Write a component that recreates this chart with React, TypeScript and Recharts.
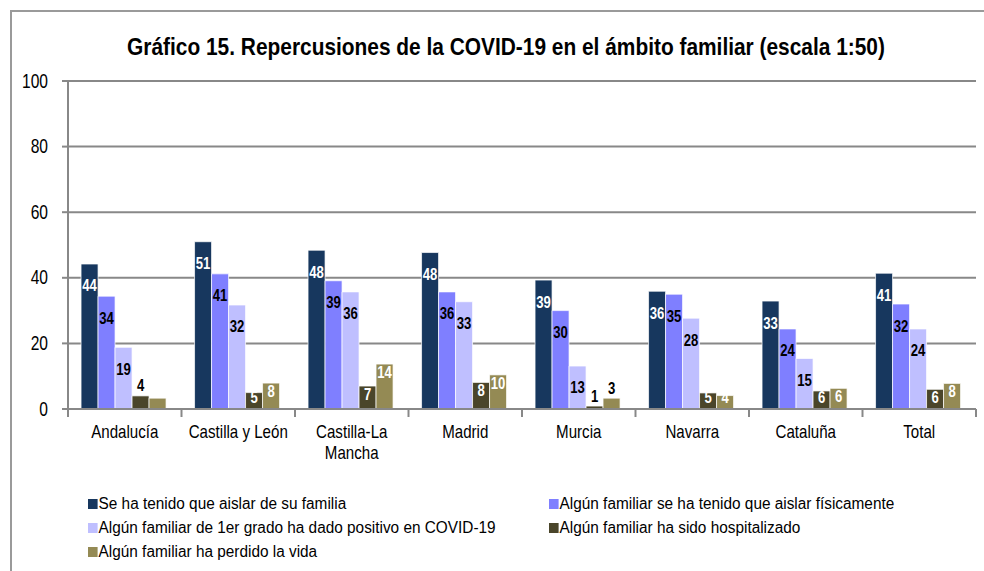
import { Bar, BarChart, CartesianGrid, LabelList, Text, XAxis, YAxis } from "recharts";

const FONT = "'Liberation Sans', Arial, sans-serif";

const categories = [
  "Andalucía",
  "Castilla y León",
  "Castilla-La Mancha",
  "Madrid",
  "Murcia",
  "Navarra",
  "Cataluña",
  "Total",
];

const aislarFamilia = [44.2, 51.0, 48.4, 47.7, 39.3, 35.9, 32.9, 41.4];
const aislarFisicamente = [34.4, 41.2, 39.1, 35.7, 30.0, 35.0, 24.4, 32.0];
const positivoCovid = [18.8, 31.7, 35.7, 32.7, 13.1, 27.7, 15.4, 24.4];
const hospitalizado = [4.0, 5.0, 7.0, 8.1, 0.9, 4.9, 5.5, 6.0];
const perdidoVida = [3.3, 7.9, 13.7, 10.4, 3.3, 4.1, 6.3, 7.8];

const yTicks = [0, 20, 40, 60, 80, 100];

// labels drawn above the bar instead of inside, and labels left out
const outsideLabels: Record<string, string[]> = {
  hospitalizado: ["Andalucía", "Murcia"],
  perdidoVida: ["Murcia"],
};
const hiddenLabels: Record<string, string[]> = {
  perdidoVida: ["Andalucía"],
};

const series = [
  { key: "aislarFamilia", name: "Se ha tenido que aislar de su familia", color: "#17375E", text: "#FFFFFF", short: false },
  { key: "aislarFisicamente", name: "Algún familiar se ha tenido que aislar físicamente", color: "#7F7FFF", text: "#000000", short: false },
  { key: "positivoCovid", name: "Algún familiar de 1er grado ha dado positivo en COVID-19", color: "#BFBFFF", text: "#000000", short: false },
  { key: "hospitalizado", name: "Algún familiar ha sido hospitalizado", color: "#4A452A", text: "#FFFFFF", short: true },
  { key: "perdidoVida", name: "Algún familiar ha perdido la vida", color: "#948A54", text: "#FFFFFF", short: true },
];

const data = categories.map((name, i) => ({
  name,
  aislarFamilia: aislarFamilia[i],
  aislarFisicamente: aislarFisicamente[i],
  positivoCovid: positivoCovid[i],
  hospitalizado: hospitalizado[i],
  perdidoVida: perdidoVida[i],
}));

const legendRows = [
  [series[0], series[1]],
  [series[2], series[3]],
  [series[4]],
];

// the original uses a condensed Arial, so text is squeezed horizontally
const NARROW = 0.82;

function makeLabel(s: (typeof series)[number]) {
  return function ValueLabel(props: any) {
    const { x, y, width, height, value, index } = props;
    const cat = categories[index];
    if ((hiddenLabels[s.key] ?? []).includes(cat)) return null;
    const outside = (outsideLabels[s.key] ?? []).includes(cat);
    let cy: number;
    let fill = s.text;
    if (outside) {
      cy = y - 10;
      fill = "#000000";
    } else if (s.short) {
      cy = Math.min(y + 8.5, y + height - 11);
    } else {
      cy = y + 22;
    }
    return (
      <text
        transform={`translate(${x + width / 2},${cy}) scale(${NARROW},1)`}
        textAnchor="middle"
        dominantBaseline="central"
        fill={fill}
        style={{ fontFamily: FONT, fontSize: 16, fontWeight: 700 }}
      >
        {Math.round(Number(value))}
      </text>
    );
  };
}

function ValueTick(props: any) {
  const { y, payload } = props;
  return (
    <text
      transform={`translate(48,${y}) scale(0.78,1)`}
      textAnchor="end"
      dominantBaseline="central"
      fill="#000"
      style={{ fontFamily: FONT, fontSize: 20 }}
    >
      {payload.value}
    </text>
  );
}

function CategoryTick(props: any) {
  const { x, y, payload, index } = props;
  const half = payload?.offset || 56.75;
  const sx = 0.84;
  return (
    <g>
      <line x1={x - half} x2={x - half} y1={y} y2={y + 8} stroke="#888" strokeWidth={2} />
      {index === categories.length - 1 && (
        <line x1={x + half} x2={x + half} y1={y} y2={y + 8} stroke="#888" strokeWidth={2} />
      )}
      <g transform={`translate(${x},${y + 16}) scale(${sx},1)`}>
        <Text
          x={0}
          y={0}
          width={(2 * half - 4) / sx}
          textAnchor="middle"
          verticalAnchor="start"
          lineHeight={21}
          fill="#000"
          style={{ fontFamily: FONT, fontSize: 18 }}
        >
          {payload.value}
        </Text>
      </g>
    </g>
  );
}

export default function App() {
  return (
    <div
      style={{
        position: "absolute",
        left: 0,
        top: 0,
        width: 984,
        height: 571,
        overflow: "hidden",
        background: "#fff",
        fontFamily: FONT,
      }}
    >
      <div
        style={{
          position: "absolute",
          left: 10,
          top: 10,
          width: 1100,
          height: 700,
          border: "2px solid #9a9a9a",
        }}
      />
      <div
        style={{
          position: "absolute",
          left: 10,
          width: 992,
          top: 33,
          textAlign: "center",
          fontSize: 24,
          fontWeight: 700,
          color: "#000",
          whiteSpace: "nowrap",
          transform: "scaleX(0.87)",
          transformOrigin: "center",
        }}
      >
        Gráfico 15. Repercusiones de la COVID-19 en el ámbito familiar (escala 1:50)
      </div>
      <div style={{ position: "absolute", left: 0, top: 0 }}>
        <BarChart
          width={984}
          height={571}
          data={data}
          margin={{ top: 81, right: 8, left: 0, bottom: 122 }}
          barGap={0}
          barCategoryGap="11.5%"
        >
          <CartesianGrid vertical={false} stroke="#888" strokeWidth={2} />
          <XAxis
            dataKey="name"
            height={40}
            axisLine={{ stroke: "#888", strokeWidth: 2 }}
            tickLine={false}
            tickSize={0}
            tickMargin={0}
            interval={0}
            tick={<CategoryTick />}
          />
          <YAxis
            width={68}
            domain={[0, 100]}
            ticks={yTicks}
            interval={0}
            axisLine={{ stroke: "#888", strokeWidth: 2 }}
            tickLine={{ stroke: "#888", strokeWidth: 2 }}
            tickSize={6}
            tickMargin={14}
            tick={<ValueTick />}
          />
          {series.map((s) => (
            <Bar
              key={s.key}
              dataKey={s.key}
              name={s.name}
              fill={s.color}
              stroke="rgba(255,255,255,0.7)"
              strokeWidth={1}
              isAnimationActive={false}
            >
              <LabelList dataKey={s.key} content={makeLabel(s)} />
            </Bar>
          ))}
        </BarChart>
      </div>
      {legendRows.map((row, r) =>
        row.map((s, c) => (
          <div
            key={s.key}
            style={{
              position: "absolute",
              left: c === 0 ? 88 : 549,
              top: 494 + r * 24,
              height: 20,
              display: "flex",
              alignItems: "center",
              fontSize: 16,
              color: "#000",
              whiteSpace: "nowrap",
              transform: "scaleX(0.96)",
              transformOrigin: "left center",
            }}
          >
            <span
              style={{
                display: "inline-block",
                width: 10,
                height: 10,
                background: s.color,
                marginRight: 1,
              }}
            />
            {s.name}
          </div>
        )),
      )}
    </div>
  );
}
